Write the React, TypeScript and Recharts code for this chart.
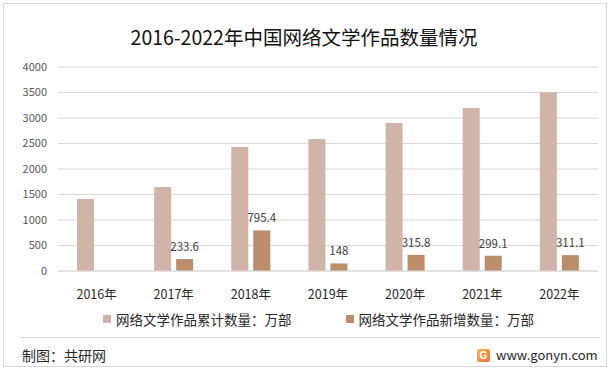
import React from 'react';
import {
    BarChart,
    Bar,
    XAxis,
    YAxis,
    CartesianGrid,
    LabelList
} from 'recharts';

const years = ['2016年', '2017年', '2018年', '2019年', '2020年', '2021年', '2022年'];
const totalWorks = [1412, 1647, 2431, 2588, 2902, 3196, 3504];
const newWorks: Array<number | null> = [null, 233.6, 795.4, 148, 315.8, 299.1, 311.1];
const yTicks = [0, 500, 1000, 1500, 2000, 2500, 3000, 3500, 4000];

const totalName = '网络文学作品累计数量：万部';
const newName = '网络文学作品新增数量：万部';

const LIGHT = '#D1B4A8';
const DARK = '#BC8D6B';
const FONT = '"Noto Sans CJK SC", "Noto Sans", sans-serif';

const data = years.map((year, i) => ({
    year,
    total: totalWorks[i],
    added: newWorks[i],
}));

const LegendItem = ({ color, label }: { color: string; label: string }) => (
    <div style={{ display: 'flex', alignItems: 'center', gap: 5 }}>
        <div style={{ width: 8, height: 8, backgroundColor: color }} />
        <span>{label}</span>
    </div>
);

export default function App() {
    return (
        <div
            style={{
                position: 'absolute',
                left: 0,
                top: 0,
                width: 616,
                height: 375,
                background: '#fff',
                fontFamily: FONT,
                overflow: 'hidden',
            }}
        >
            {/* outer frame */}
            <div
                style={{
                    position: 'absolute',
                    left: 3,
                    top: 3,
                    width: 604,
                    height: 364,
                    border: '1px solid #D9D9D9',
                    boxSizing: 'border-box',
                }}
            />
            <div
                style={{
                    position: 'absolute',
                    left: 0,
                    width: 608,
                    top: 24,
                    textAlign: 'center',
                    fontSize: 19.5,
                    lineHeight: '26px',
                    color: '#111',
                }}
            >
                2016-2022年中国网络文学作品数量情况
            </div>

            <div style={{ position: 'absolute', left: 0, top: 0 }}>
                <BarChart
                    width={616}
                    height={375}
                    data={data}
                    margin={{ top: 67, right: 18, left: 0, bottom: 74 }}
                    barSize={17}
                    barGap={5}
                >
                    <CartesianGrid vertical={false} stroke="#D9D9D9" />
                    <XAxis
                        dataKey="year"
                        height={30}
                        axisLine={{ stroke: '#D9D9D9' }}
                        tickLine={false}
                        tickMargin={13}
                        tick={{ fill: '#262626', fontSize: 12.5, fontFamily: FONT }}
                    />
                    <YAxis
                        width={58}
                        domain={[0, 4000]}
                        ticks={yTicks}
                        axisLine={false}
                        tickLine={false}
                        tickMargin={5}
                        tick={{ fill: '#595959', fontSize: 11, fontFamily: FONT }}
                    />
                    <Bar dataKey="total" name={totalName} fill={LIGHT} isAnimationActive={false} />
                    <Bar dataKey="added" name={newName} fill={DARK} isAnimationActive={false}>
                        <LabelList
                            dataKey="added"
                            position="top"
                            offset={8}
                            fill="#404040"
                            fontSize={11.5}
                            fontFamily={FONT}
                        />
                    </Bar>
                </BarChart>
            </div>

            {/* legend */}
            <div
                style={{
                    position: 'absolute',
                    left: 103,
                    top: 309,
                    display: 'flex',
                    gap: 54,
                    fontSize: 13.5,
                    lineHeight: '20px',
                    color: '#262626',
                }}
            >
                <LegendItem color={LIGHT} label={totalName} />
                <LegendItem color={DARK} label={newName} />
            </div>

            {/* footer */}
            <div
                style={{
                    position: 'absolute',
                    left: 20,
                    top: 337,
                    width: 580,
                    height: 1,
                    background: '#D9D9D9',
                }}
            />
            <div
                style={{
                    position: 'absolute',
                    left: 22,
                    top: 345,
                    fontSize: 14,
                    lineHeight: '20px',
                    color: '#262626',
                }}
            >
                制图：共研网
            </div>
            <div
                style={{
                    position: 'absolute',
                    left: 477,
                    top: 345,
                    display: 'flex',
                    alignItems: 'center',
                    gap: 6,
                    fontSize: 13,
                    lineHeight: '20px',
                    color: '#262626',
                }}
            >
                <div
                    style={{
                        width: 13,
                        height: 13,
                        borderRadius: 2,
                        background: 'linear-gradient(135deg, #F9B55A, #EE6F3A)',
                        color: '#fff',
                        fontSize: 10,
                        lineHeight: '13px',
                        textAlign: 'center',
                        fontWeight: 'bold',
                        fontFamily: 'sans-serif',
                    }}
                >
                    G
                </div>
                <span>www.gonyn.com</span>
            </div>
        </div>
    );
}
